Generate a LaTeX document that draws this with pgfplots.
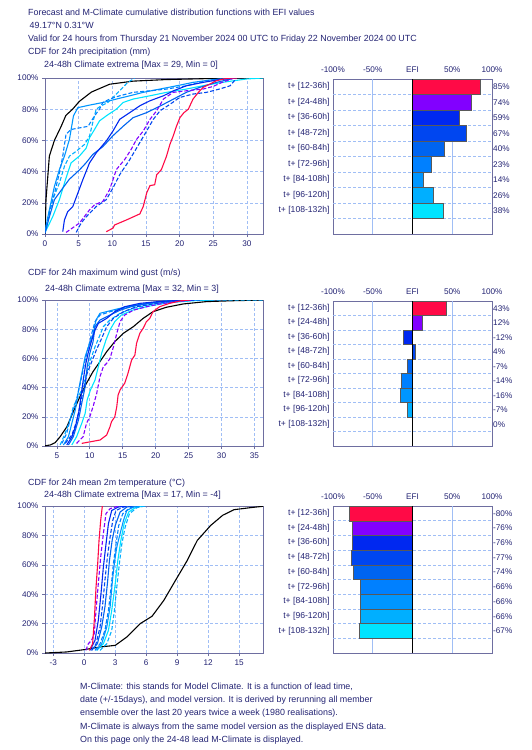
\documentclass[border=0pt]{standalone}
\usepackage{pgfplots}
\pgfplotsset{compat=1.18}
\usepackage{fontspec}
\setmainfont{Liberation Sans}
\definecolor{textcol}{RGB}{35,35,115}
\definecolor{axiscol}{RGB}{110,110,160}
\definecolor{gridblue}{RGB}{160,190,245}
\definecolor{c1}{RGB}{255,10,70}
\definecolor{c2}{RGB}{130,0,255}
\definecolor{c3}{RGB}{0,40,240}
\definecolor{c4}{RGB}{0,70,240}
\definecolor{c5}{RGB}{0,100,240}
\definecolor{c6}{RGB}{0,128,255}
\definecolor{c7}{RGB}{0,150,255}
\definecolor{c8}{RGB}{0,175,255}
\definecolor{c9}{RGB}{0,228,255}
\newcommand{\tf}{\fontsize{8.9}{10}\selectfont}
\newcommand{\kf}{\fontsize{8.2}{9}\selectfont}
\newcommand{\lf}{\fontsize{8.6}{9}\selectfont}
\pgfplotsset{
  cdf/.style={anchor=north west, scale only axis, width=218pt,
    ymin=0, ymax=100, ytick={0,20,40,60,80,100},
    yticklabel={\pgfmathprintnumber{\tick}\%},
    grid=major, grid style={gridblue, line width=0.6pt, dash pattern=on 3pt off 2pt},
    axis line style={axiscol, line width=0.9pt},
    tick style={axiscol, line width=0.6pt}, tick align=outside, major tick length=3pt,
    xtick pos=left, ytick pos=left,
    ticklabel style={font=\kf, text=textcol},
    /pgf/number format/assume math mode=true,
  },
  fc/.style={line width=1.1pt, mark=none, #1},
  fd/.style={line width=1.1pt, mark=none, dash pattern=on 4pt off 2pt, #1},
  efi/.style={anchor=north west, scale only axis, width=159pt,
    xmin=-100, xmax=100, ymin=0, ymax=10, y dir=reverse, clip=false,
    xtick={-100,-50,0,50,100}, xticklabels={-100\%,-50\%,EFI,50\%,100\%},
    xticklabel pos=right, x tick style={draw=none},
    ytick={0.5,1.5,2.5,3.5,4.5,5.5,6.5,7.5,8.5},
    yticklabels={t+ [12-36h],t+ [24-48h],t+ [36-60h],t+ [48-72h],t+ [60-84h],t+ [72-96h],t+ [84-108h],t+ [96-120h],t+ [108-132h]},
    y tick style={draw=none},
    axis line style={axiscol, line width=0.9pt},
    xticklabel style={font=\kf, text=textcol, yshift=3pt},
    yticklabel style={font=\lf, text=textcol},
  },
}
\newcommand{\eb}[3]{\addplot[xbar, bar shift=0pt, bar width=\bw, fill=#1, draw=gray!70!black, line width=0.4pt, forget plot] coordinates {(#2,#3)};}
\newcommand{\efigrid}{%
  \pgfplotsinvokeforeach{1,...,9}{\draw[gridblue, line width=0.6pt, dash pattern=on 3pt off 2pt] (axis cs:-100,##1) -- (axis cs:100,##1);}
  \draw[gridblue, line width=0.6pt] (axis cs:-50,0) -- (axis cs:-50,10);
  \draw[gridblue, line width=0.6pt] (axis cs:50,0) -- (axis cs:50,10);}
\newcommand{\rl}[2]{\node[anchor=west, font=\kf, text=textcol, inner sep=1pt] at (axis cs:100,#1) {#2};}
\begin{document}
\begin{tikzpicture}
% ---------------- Panel 1: precipitation ----------------
\begin{axis}[cdf, at={(45pt,-78pt)}, height=156pt, xmin=0, xmax=32.4, xtick={0,5,...,30}]
\addplot[fc=black] coordinates {(0,0) (0.15,22) (0.65,50) (1.4,60) (2.4,69) (3.1,76) (4.1,80) (5.1,85) (6.9,91) (9.6,96) (13.1,98) (18,99) (23,99.5) (28,100) (32.4,100)};
\addplot[fc=c9] coordinates {(0,1) (1.14,11) (2.14,22) (3.13,36) (3.88,45.6) (5.12,50) (6.12,55) (6.62,61.7) (7.36,67) (8.1,72.5) (9.1,75.7) (10.6,80) (11.6,84.3) (13.1,86.5) (15.6,88.6) (18.06,90.8) (21,92.9) (24,95.5) (27,97.6) (30,99.4) (32.4,100)};
\addplot[fd=c8] coordinates {(0,1) (0.4,11) (1.14,22) (2.14,32.7) (2.89,43.4) (3.63,49.9) (4.63,53) (5.87,57.4) (6.62,62.8) (7.1,71.4) (7.61,80) (8.36,82.2) (9.35,84.3) (10.35,88.6) (11.34,92.9) (12.3,97.2) (13.3,99.8)};
\addplot[fc=c7] coordinates {(0,1.5) (0.65,15.5) (1.4,30.5) (2.14,41.3) (2.89,49.9) (3.63,60.6) (4.23,75.7) (4.88,81) (6.6,82.6) (8.6,84.3) (10.6,86.5) (12.6,88.6) (14.6,90.8) (17.06,92.9) (19.55,95) (22,97.2) (25,99) (28,100)};
\addplot[fd=c6] coordinates {(0,1) (0.65,13) (1.4,26) (2.14,39) (2.64,50) (3.13,64) (3.88,67) (5.1,68) (6.4,69) (7.36,75.7) (8.1,80) (8.6,84.3) (9.6,86.5) (11.1,88.6) (13.1,90.8) (15.6,91.8) (18.06,92.9) (21,95) (24,98.3) (27,99.8)};
\addplot[fc=c5] coordinates {(0,0.4) (0.65,11) (1.4,22) (2.4,28) (3.6,35) (5.1,41) (6.1,45.6) (7.1,51) (8.6,56) (10.1,63) (11.6,69) (13.1,74.6) (15.1,77.8) (17.1,82) (19.1,86.5) (21,90.8) (23,94) (25.5,97.2) (28,99.8)};
\addplot[fd=c4] coordinates {(4.63,1) (5.37,7) (6.12,11) (7.61,17.6) (9.1,22) (10.1,29.5) (11.1,38) (12.6,47.7) (13.6,55) (15.1,66) (16.1,73.5) (17.1,79) (18.6,83.2) (20,87.5) (22,89.7) (24,90.8) (26,93) (27.5,95) (28.3,99)};
\addplot[fc=c3] coordinates {(2.64,1.5) (2.89,9) (3.38,14.4) (4.13,17.6) (4.88,26.2) (5.62,34.8) (6.62,45.6) (7.61,52) (9.1,59.6) (10.1,66) (11.1,73.5) (12.6,77.8) (14.1,82.2) (15.6,85.4) (17.6,88.6) (19.1,91.8) (21,95) (23.5,97.2) (26,99) (28.5,100)};
\addplot[fd=c2] coordinates {(3.13,1) (5.12,7) (6.62,15.5) (7.36,18.7) (8.6,20.9) (9.6,28.4) (10.6,41.3) (11.84,47.7) (12.8,54.2) (13.6,60.6) (14.6,66) (15.6,73.5) (16.6,79) (17.6,86.5) (19.05,90.8) (21,91.8) (23.5,92.9) (25,94.6) (26.3,97.2) (28,99.8)};
\addplot[fc=c1] coordinates {(9.1,1.5) (10.1,3.7) (10.35,5.8) (12.1,9) (14.1,12.9) (14.6,17.6) (15.1,26.2) (15.6,31) (16.3,31.6) (16.6,38) (17.3,41.3) (18.06,49.9) (18.56,57.4) (19.05,62.8) (19.55,69.2) (20.05,74.6) (20.65,77.8) (21.3,80) (22,86.5) (22.8,90.8) (23.5,94) (24.5,96.1) (25.5,98.3) (27,99.8) (28.5,100)};
\end{axis}
\def\bw{15.5pt}
\begin{axis}[efi, at={(333pt,-79pt)}, height=155pt]
\efigrid
\eb{c1}{85}{0.5}\eb{c2}{74}{1.5}\eb{c3}{59}{2.5}\eb{c4}{67}{3.5}\eb{c5}{40}{4.5}\eb{c6}{23}{5.5}\eb{c7}{14}{6.5}\eb{c8}{26}{7.5}\eb{c9}{38}{8.5}
\draw[black, line width=1.2pt] (axis cs:0,0) -- (axis cs:0,10);
\rl{0.5}{85\%}\rl{1.5}{74\%}\rl{2.5}{59\%}\rl{3.5}{67\%}\rl{4.5}{40\%}\rl{5.5}{23\%}\rl{6.5}{14\%}\rl{7.5}{26\%}\rl{8.5}{38\%}
\end{axis}
% ---------------- Panel 2: wind gust ----------------
\begin{axis}[cdf, at={(45pt,-300pt)}, height=146pt, xmin=3.2, xmax=36.3, xtick={5,10,...,35}]
\addplot[fc=black] coordinates {(3.0,0) (4,0.7) (4.75,2.3) (5.5,6.4) (6.5,13) (7.5,23.5) (8.5,33.8) (9.5,43) (10.5,51) (11.55,57.8) (12.56,64.6) (13.8,71.5) (15.1,77.2) (16.6,81.7) (18.1,87.4) (19.6,92) (21.6,95) (24.2,97.3) (27.7,98.9) (31.7,99.5) (36.3,100)};
\addplot[fc=c9] coordinates {(7.27,0.7) (8,6.4) (8.78,15.5) (9.3,22.4) (9.6,31.5) (10.1,38.4) (10.8,45.2) (11.3,54.3) (11.8,63.5) (12.46,72.6) (13.07,79.5) (13.8,85.2) (14.8,89.7) (16.6,93.2) (19.1,95.9) (22.1,98.2) (25.7,99.5) (28.7,100)};
\addplot[fd=c8] coordinates {(5.5,0.7) (6.26,8.7) (7,17.8) (7.5,27) (8,31.5) (8.78,38.4) (9.5,49.8) (10.1,58.9) (10.8,68) (11.45,74.9) (12.05,81.7) (13.07,86.3) (14.6,90.9) (16.6,94.3) (19.6,97.3) (23.2,99.3) (26.7,100) (36.3,100)};
\addplot[fc=c7] coordinates {(6,0.7) (6.76,6.4) (7.27,15.5) (7.8,24.7) (8.3,38.4) (8.8,49.8) (9.3,61.2) (9.8,68) (10.45,76) (10.95,86.3) (11.55,90.9) (13.57,93.2) (15.6,95.4) (18.6,97.7) (21.6,99.3) (24.7,100)};
\addplot[fd=c6] coordinates {(5.76,1.8) (6.5,8.7) (7,17.8) (7.5,24.7) (8.1,33.8) (8.78,47.5) (9.3,58.9) (9.8,68) (10.3,77.2) (10.8,85.2) (11.55,89.7) (13.07,92) (15.1,94.3) (17.6,96.6) (20.6,98.9) (23.7,100)};
\addplot[fc=c5] coordinates {(6.76,0.7) (7.5,6.4) (8.28,17.8) (8.78,29.2) (9.3,40.6) (9.6,54.3) (10,63.5) (10.5,71.5) (10.8,81.7) (11.55,86.3) (13.07,89.7) (14.6,93) (16.6,95.9) (19.6,98.2) (22.6,99.5) (25,100)};
\addplot[fd=c4] coordinates {(6.26,1.8) (7.27,7.5) (7.9,15.5) (8.5,27) (9,38.4) (9.6,49.8) (10.3,57.8) (11,65.8) (11.8,73.7) (12.56,81.7) (13.57,87.4) (15.1,92) (17.1,95.4) (20.1,97.7) (23.7,99.5) (26.7,100)};
\addplot[fc=c3] coordinates {(6.5,0.7) (7.3,6.4) (7.8,13) (8.3,22.4) (8.8,38.4) (9,45) (9.4,56.6) (9.8,64.6) (10.3,72.6) (10.8,79.5) (11.3,84) (12.56,87.4) (13.8,92) (15.3,95.4) (17.6,97.7) (20.6,99) (24.7,100)};
\addplot[fd=c2] coordinates {(8,1.8) (9,6.4) (9.5,15.5) (10,20) (10.5,27) (11.05,36) (11.55,47.5) (12.05,54.3) (12.56,56.6) (13.07,60) (13.6,68) (14.1,77.2) (14.6,85.2) (15.3,89.7) (16.6,93) (18.6,95.4) (20.6,97.3) (23.2,98.9) (25.7,100)};
\addplot[fc=c1] coordinates {(8.78,1.8) (11.55,4.1) (12.56,7.5) (13.07,13.2) (13.3,16.7) (13.8,20) (14.1,27) (14.3,35) (14.6,38.4) (15.3,43) (15.8,49.8) (16.35,58.9) (16.85,62.3) (17.1,70.3) (17.6,77.2) (18.1,80.6) (18.6,85.2) (19.1,87.4) (19.6,92) (20.6,95.4) (22.1,97.7) (23.9,99.5) (25.2,100)};
\end{axis}
\def\bw{14.5pt}
\begin{axis}[efi, at={(333pt,-301pt)}, height=145pt]
\efigrid
\eb{c1}{43}{0.5}\eb{c2}{12}{1.5}\eb{c3}{-12}{2.5}\eb{c4}{4}{3.5}\eb{c5}{-7}{4.5}\eb{c6}{-14}{5.5}\eb{c7}{-16}{6.5}\eb{c8}{-7}{7.5}
\draw[black, line width=1.2pt] (axis cs:0,0) -- (axis cs:0,10);
\rl{0.5}{43\%}\rl{1.5}{12\%}\rl{2.5}{-12\%}\rl{3.5}{4\%}\rl{4.5}{-7\%}\rl{5.5}{-14\%}\rl{6.5}{-16\%}\rl{7.5}{-7\%}\rl{8.5}{0\%}
\end{axis}
% ---------------- Panel 3: temperature ----------------
\begin{axis}[cdf, at={(45pt,-506pt)}, height=147pt, xmin=-3.8, xmax=17.3, xtick={-3,0,...,15}]
\addplot[fc=black] coordinates {(-3.8,0) (-1.72,0.7) (0,2.3) (1.53,4.1) (3,5.2) (4.12,10.9) (5.42,20) (6.56,25) (7.7,35.8) (8.83,49.4) (9.97,63) (10.94,76.6) (12.24,86.8) (13.4,93.7) (14.5,97.5) (16.1,98.9) (17.3,99.8)};
\addplot[fc=c9] coordinates {(1.2,1.8) (1.85,6.3) (2.34,15.4) (2.66,29) (3,47.2) (3.25,63) (3.54,76.6) (3.86,88) (4.3,95.9) (4.94,98.9) (5.75,100)};
\addplot[fd=c8] coordinates {(1.53,1.8) (2.18,6.3) (2.66,15.4) (2.92,29) (3.15,44.9) (3.4,60.8) (3.64,74.4) (3.96,85.7) (4.38,94.8) (5.1,98.9) (5.9,100)};
\addplot[fc=c7] coordinates {(1.2,1.8) (1.69,6.3) (2.18,17.7) (2.5,31.3) (2.73,49.4) (2.95,63) (3.15,72.1) (3.47,81.2) (3.8,90.2) (4.12,97) (4.77,99.3) (5.42,100)};
\addplot[fd=c6] coordinates {(1.04,1.8) (1.53,6.3) (2.0,15.4) (2.34,29) (2.6,44.9) (2.82,60.8) (3.08,74.4) (3.34,86.8) (3.73,94.8) (4.45,98.9) (5.1,100)};
\addplot[fc=c5] coordinates {(0.71,1.8) (1.27,6.3) (1.69,17.7) (2.0,31.3) (2.24,47.2) (2.44,63) (2.7,76.6) (3,86.8) (3.47,95.9) (4.12,99.3) (4.77,100)};
\addplot[fd=c4] coordinates {(0.71,1.8) (1.14,6.3) (1.53,17.7) (1.79,33.6) (2.0,49.4) (2.24,65.3) (2.5,78.9) (2.76,90.2) (3.08,97) (3.8,99.3) (4.6,100)};
\addplot[fc=c3] coordinates {(0.55,1.8) (1.04,8.6) (1.36,22.2) (1.62,40.4) (1.85,58.5) (2.11,74.4) (2.34,88) (2.66,97) (3.3,99.3) (4.1,100)};
\addplot[fd=c2] coordinates {(0.16,1.8) (0.39,6.3) (0.71,8.6) (0.97,13.2) (1.14,29) (1.36,47.2) (1.59,65.3) (1.85,81.2) (2.1,94.8) (2.5,98.2) (3,99.3) (3.3,100)};
\addplot[fc=c1] coordinates {(0.49,1.8) (0.81,6.3) (0.97,22.2) (1.14,44.9) (1.3,60.8) (1.43,76.6) (1.59,90.2) (1.75,100)};
\end{axis}
\def\bw{14.7pt}
\begin{axis}[efi, at={(333pt,-506pt)}, height=147pt]
\efigrid
\eb{c1}{-80}{0.5}\eb{c2}{-76}{1.5}\eb{c3}{-76}{2.5}\eb{c4}{-77}{3.5}\eb{c5}{-74}{4.5}\eb{c6}{-66}{5.5}\eb{c7}{-66}{6.5}\eb{c8}{-66}{7.5}\eb{c9}{-67}{8.5}
\draw[black, line width=1.2pt] (axis cs:0,0) -- (axis cs:0,10);
\rl{0.5}{-80\%}\rl{1.5}{-76\%}\rl{2.5}{-76\%}\rl{3.5}{-77\%}\rl{4.5}{-74\%}\rl{5.5}{-66\%}\rl{6.5}{-66\%}\rl{7.5}{-66\%}\rl{8.5}{-67\%}
\end{axis}
% ---------------- Texts ----------------
\begin{scope}[every node/.style={anchor=west, font=\tf, text=textcol, inner sep=0pt}]
\node at (28pt,-12.7pt) {Forecast and M-Climate cumulative distribution functions with EFI values};
\node at (29.5pt,-25pt) {49.17°N 0.31°W};
\node at (28pt,-39pt) {Valid for 24 hours from Thursday 21 November 2024 00 UTC to Friday 22 November 2024 00 UTC};
\node at (28pt,-52pt) {CDF for 24h precipitation (mm)};
\node at (44pt,-65pt) {24-48h Climate extrema [Max = 29, Min = 0]};
\node at (28pt,-273pt) {CDF for 24h maximum wind gust (m/s)};
\node at (45pt,-289pt) {24-48h Climate extrema [Max = 32, Min = 3]};
\node at (28pt,-483pt) {CDF for 24h mean 2m temperature (°C)};
\node at (44pt,-495.5pt) {24-48h Climate extrema [Max = 17, Min = -4]};
\node at (80pt,-687pt) {M-Climate: this stands for Model Climate. It is a function of lead time,};
\node at (80pt,-700pt) {date (+/-15days), and model version. It is derived by rerunning all member};
\node at (80pt,-713.5pt) {ensemble over the last 20 years twice a week (1980 realisations).};
\node at (80pt,-727pt) {M-Climate is always from the same model version as the displayed ENS data.};
\node at (80pt,-740pt) {On this page only the 24-48 lead M-Climate is displayed.};
\end{scope}
\pgfresetboundingbox
\path[use as bounding box] (0pt,0pt) rectangle (532pt,-750pt);
\end{tikzpicture}
\end{document}
